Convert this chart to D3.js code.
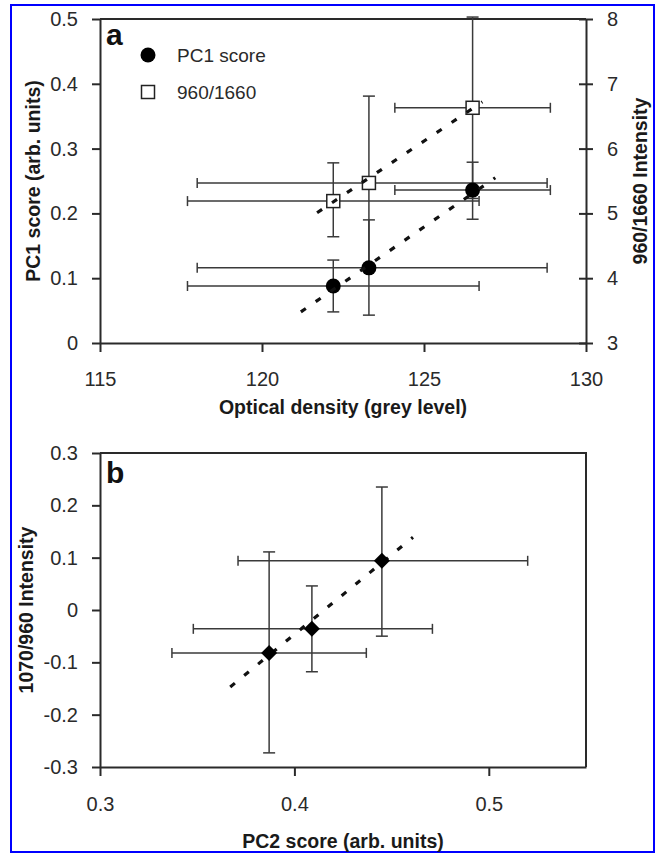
<!DOCTYPE html>
<html>
<head>
<meta charset="utf-8">
<script src="https://cdn.jsdelivr.net/npm/d3@7"></script>
<style>
	body { margin: 0; background: #fff; }
	svg { display: block; font-family: "Liberation Sans", Arial, sans-serif; }
	.axis path, .axis line { stroke: #2a2a2a; stroke-width: 2; }
	.axis text { font-size: 20px; fill: #2a2a2a; }
	.frame { stroke: #2a2a2a; stroke-width: 2; fill: none; }
	.err { stroke: #3a3a3a; stroke-width: 1.5; fill: none; }
	.trend { stroke: #111; stroke-width: 3.2; stroke-dasharray: 6,12; fill: none; }
	.title { font-size: 19.5px; font-weight: bold; fill: #1a1a1a; }
	.panel { font-size: 30px; font-weight: bold; fill: #111; }
	.legend { font-size: 19px; fill: #2a2a2a; }
</style>
</head>
<body>
<svg id="chart" width="655" height="856"></svg>
<script>
'use strict';

// panel a: optical density vs PC1 score / 960/1660
const density = [122.2, 123.3, 126.5];
const densityLo = [117.7, 118.0, 124.1];
const densityHi = [126.7, 128.8, 128.9];
const pc1 = [0.088, 0.116, 0.236];
const pc1Lo = [0.048, 0.043, 0.191];
const pc1Hi = [0.128, 0.190, 0.279];
const ratio = [5.19, 5.47, 6.63];
const ratioLo = [4.64, 4.13, 5.23];
const ratioHi = [5.78, 6.81, 8.03];
const trendPc1X = [121.2, 127.2];
const trendPc1Y = [0.048, 0.255];
const trendRatioX = [121.7, 126.8];
const trendRatioY = [5.01, 6.72];
const ticksA = [115, 120, 125, 130];
const ticksPc1 = [0, 0.1, 0.2, 0.3, 0.4, 0.5];
const ticksRatio = [3, 4, 5, 6, 7, 8];

// panel b: PC2 score vs 1070/960
const pc2 = [0.387, 0.409, 0.445];
const pc2Lo = [0.337, 0.348, 0.371];
const pc2Hi = [0.437, 0.471, 0.520];
const r1070 = [-0.082, -0.036, 0.094];
const r1070Lo = [-0.273, -0.118, -0.050];
const r1070Hi = [0.111, 0.046, 0.235];
const trendBX = [0.367, 0.461];
const trendBY = [-0.147, 0.139];
const ticksPc2 = [0.3, 0.4, 0.5];
const ticks1070 = [-0.3, -0.2, -0.1, 0, 0.1, 0.2, 0.3];

let svg = d3.select("#chart");

svg.append("rect")
	.attr("x", 11).attr("y", 5)
	.attr("width", 643).attr("height", 847)
	.attr("fill", "none")
	.attr("stroke", "#0000ff")
	.attr("stroke-width", 2);

// plain numbers, hyphen minus like the original
let fmt = function(d){ return String(+d.toFixed(2)); };

// ---------- panel a ----------
let xA = d3.scaleLinear().domain([115, 130]).range([100, 586]);
let yA = d3.scaleLinear().domain([0, 0.5]).range([343, 19]);
let yR = d3.scaleLinear().domain([3, 8]).range([343, 19]);

let gA = svg.append("g");

gA.append("line").attr("class", "frame")
	.attr("x1", 100).attr("x2", 586).attr("y1", 19).attr("y2", 19);

gA.append("g").attr("class", "axis")
	.attr("transform", "translate(0,343)")
	.call(d3.axisBottom(xA).tickValues(ticksA).tickFormat(fmt).tickSize(9).tickSizeOuter(0).tickPadding(20));

gA.append("g").attr("class", "axis")
	.attr("transform", "translate(100,0)")
	.call(d3.axisLeft(yA).tickValues(ticksPc1).tickFormat(fmt).tickSize(8).tickSizeOuter(0).tickPadding(14));

let axR = gA.append("g").attr("class", "axis")
	.attr("transform", "translate(586,0)")
	.call(d3.axisRight(yR).tickValues(ticksRatio).tickFormat(fmt).tickSize(-7).tickSizeOuter(0).tickPadding(21));
axR.selectAll(".tick line").attr("x2", 7).attr("x1", -7);

// error bars
function errBars(g, xs, xl, xh, ys, yl, yh, sx, sy){
	for (let i = 0; i < xs.length; i++){
		let cx = sx(xs[i]), cy = sy(ys[i]);
		g.append("line").attr("class", "err")
			.attr("x1", sx(xl[i])).attr("x2", sx(xh[i])).attr("y1", cy).attr("y2", cy);
		g.append("line").attr("class", "err")
			.attr("x1", sx(xl[i])).attr("x2", sx(xl[i])).attr("y1", cy - 5).attr("y2", cy + 5);
		g.append("line").attr("class", "err")
			.attr("x1", sx(xh[i])).attr("x2", sx(xh[i])).attr("y1", cy - 5).attr("y2", cy + 5);
		g.append("line").attr("class", "err")
			.attr("x1", cx).attr("x2", cx).attr("y1", sy(yl[i])).attr("y2", sy(yh[i]));
		g.append("line").attr("class", "err")
			.attr("x1", cx - 6).attr("x2", cx + 6).attr("y1", sy(yl[i])).attr("y2", sy(yl[i]));
		g.append("line").attr("class", "err")
			.attr("x1", cx - 6).attr("x2", cx + 6).attr("y1", sy(yh[i])).attr("y2", sy(yh[i]));
	}
}

errBars(gA, density, densityLo, densityHi, pc1, pc1Lo, pc1Hi, xA, yA);
errBars(gA, density, densityLo, densityHi, ratio, ratioLo, ratioHi, xA, yR);

gA.selectAll(".sq").data(d3.range(ratio.length)).enter()
	.append("rect")
	.attr("x", function(i){ return xA(density[i]) - 6.5; })
	.attr("y", function(i){ return yR(ratio[i]) - 6.5; })
	.attr("width", 13).attr("height", 13)
	.attr("fill", "#fff").attr("stroke", "#222").attr("stroke-width", 1.5);

gA.selectAll(".dot").data(d3.range(pc1.length)).enter()
	.append("circle")
	.attr("cx", function(i){ return xA(density[i]); })
	.attr("cy", function(i){ return yA(pc1[i]); })
	.attr("r", 7.5)
	.attr("fill", "#000");

let lineA = d3.line()
	.x(function(d){ return xA(d[0]); })
	.y(function(d){ return yA(d[1]); });
let lineR = d3.line()
	.x(function(d){ return xA(d[0]); })
	.y(function(d){ return yR(d[1]); });

gA.append("path").attr("class", "trend")
	.attr("d", lineA(d3.zip(trendPc1X, trendPc1Y)));
gA.append("path").attr("class", "trend")
	.attr("d", lineR(d3.zip(trendRatioX, trendRatioY)));

// legend
gA.append("circle").attr("cx", 148).attr("cy", 55).attr("r", 7.5).attr("fill", "#000");
gA.append("text").attr("class", "legend").attr("x", 177).attr("y", 62).text("PC1 score");
gA.append("rect").attr("x", 141.5).attr("y", 85.5).attr("width", 13).attr("height", 13)
	.attr("fill", "#fff").attr("stroke", "#222").attr("stroke-width", 1.5);
gA.append("text").attr("class", "legend").attr("x", 177).attr("y", 99).text("960/1660");

gA.append("text").attr("class", "panel").attr("x", 106).attr("y", 45).text("a");

gA.append("text").attr("class", "title")
	.attr("x", 343).attr("y", 414).attr("text-anchor", "middle")
	.text("Optical density (grey level)");
gA.append("text").attr("class", "title")
	.attr("transform", "translate(40,181) rotate(-90)").attr("text-anchor", "middle")
	.text("PC1 score (arb. units)");
gA.append("text").attr("class", "title")
	.attr("transform", "translate(647,181) rotate(-90)").attr("text-anchor", "middle")
	.text("960/1660 Intensity");

// ---------- panel b ----------
let xB = d3.scaleLinear().domain([0.3, 0.55]).range([100, 586]);
let yB = d3.scaleLinear().domain([-0.3, 0.3]).range([767, 453]);

let gB = svg.append("g");

gB.append("path").attr("class", "frame")
	.attr("d", "M" + xB(0.3) + "," + yB(0.3) + "H" + xB(0.55) + "V" + yB(-0.3));

gB.append("g").attr("class", "axis")
	.attr("transform", "translate(0,767)")
	.call(d3.axisBottom(xB).tickValues(ticksPc2).tickFormat(fmt).tickSize(9).tickSizeOuter(0).tickPadding(21));

gB.append("g").attr("class", "axis")
	.attr("transform", "translate(100,0)")
	.call(d3.axisLeft(yB).tickValues(ticks1070).tickFormat(fmt).tickSize(8).tickSizeOuter(0).tickPadding(14));

errBars(gB, pc2, pc2Lo, pc2Hi, r1070, r1070Lo, r1070Hi, xB, yB);

let lineB = d3.line()
	.x(function(d){ return xB(d[0]); })
	.y(function(d){ return yB(d[1]); });
gB.append("path").attr("class", "trend")
	.attr("d", lineB(d3.zip(trendBX, trendBY)));

gB.selectAll(".dia").data(d3.range(pc2.length)).enter()
	.append("path")
	.attr("transform", function(i){ return "translate(" + xB(pc2[i]) + "," + yB(r1070[i]) + ")"; })
	.attr("d", "M0,-8L8,0L0,8L-8,0Z")
	.attr("fill", "#000");

gB.append("text").attr("class", "panel").attr("x", 106).attr("y", 483).text("b");

gB.append("text").attr("class", "title")
	.attr("x", 343).attr("y", 848).attr("text-anchor", "middle")
	.text("PC2 score (arb. units)");
gB.append("text").attr("class", "title")
	.attr("transform", "translate(33,610) rotate(-90)").attr("text-anchor", "middle")
	.text("1070/960 Intensity");
</script>
</body>
</html>
